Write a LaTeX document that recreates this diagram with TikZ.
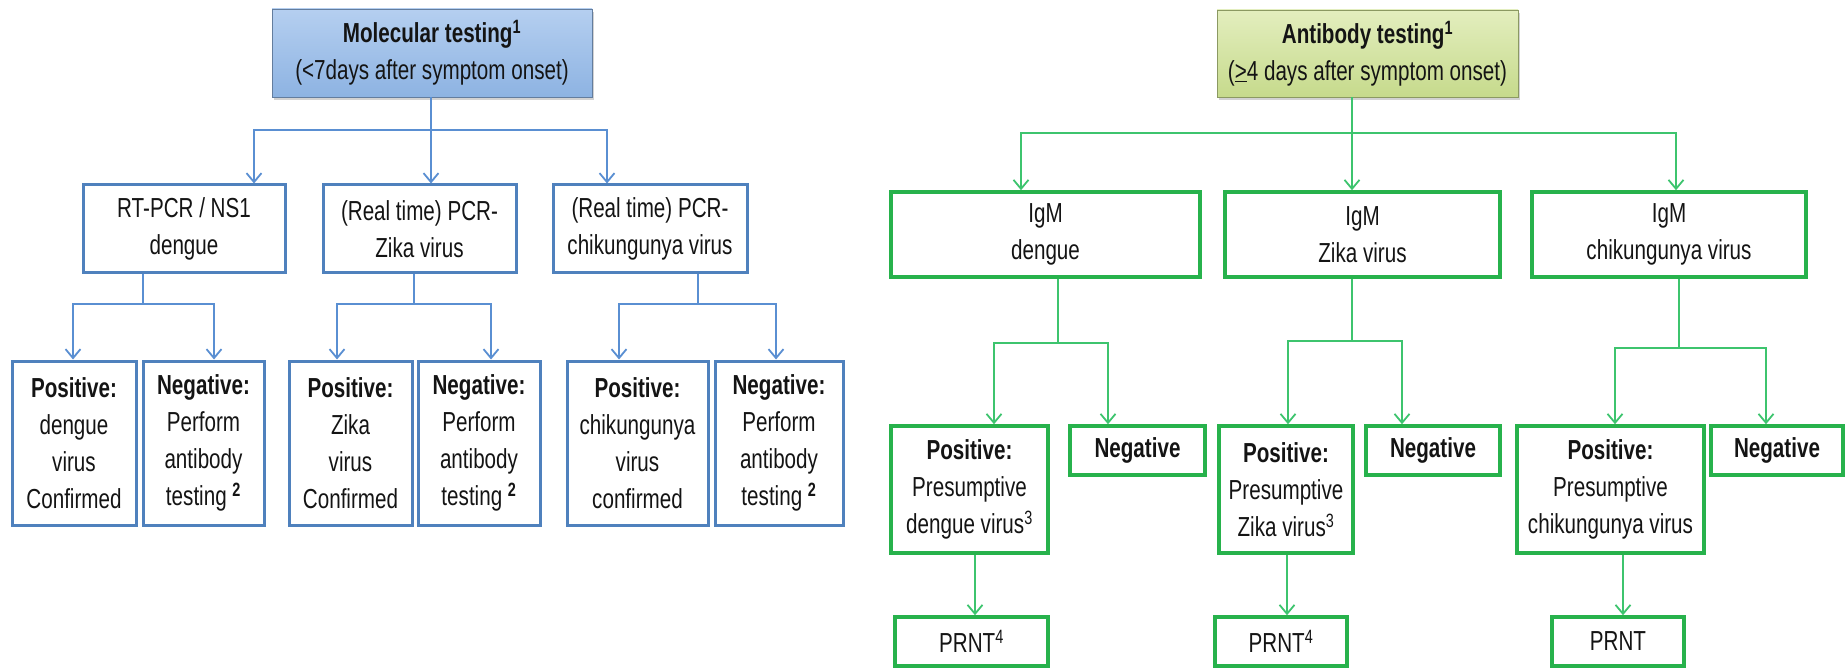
\documentclass[tikz,border=0pt]{standalone}
\usepackage{fontspec}
\setmainfont{Liberation Sans}[FakeStretch=0.75]
\usetikzlibrary{arrows.meta,shadows}
\definecolor{bluB}{HTML}{4F81BD}
\definecolor{bluC}{HTML}{5A8FD2}
\definecolor{bluT}{HTML}{B5CFF0}
\definecolor{bluBt}{HTML}{8DB3E2}
\definecolor{grnB}{HTML}{27B24C}
\definecolor{grnC}{HTML}{3DC46E}
\definecolor{grnT}{HTML}{E3EEBE}
\definecolor{grnBt}{HTML}{C6DA8C}
\definecolor{txt}{HTML}{141414}
\begin{document}
\begin{tikzpicture}[x=1pt,y=-1pt,
  every node/.style={font=\fontsize{27.5}{37}\selectfont, text=txt, align=center, inner sep=0pt},
  bbox/.style={draw=bluB, line width=3pt, fill=white},
  gbox/.style={draw=grnB, line width=3.5pt, fill=white},
  btop/.style={draw=bluBt!70!black, line width=0.6pt, top color=bluT, bottom color=bluBt,
    drop shadow={shadow xshift=2pt,shadow yshift=-3pt,opacity=0.35}},
  gtop/.style={draw=grnBt!70!black, line width=0.6pt, top color=grnT, bottom color=grnBt,
    drop shadow={shadow xshift=2pt,shadow yshift=-3pt,opacity=0.35}},
  bcon/.style={draw=bluC, line width=1.8pt},
  bcona/.style={bcon, -{Straight Barb[length=9pt,width=15pt]}},
  gcon/.style={draw=grnC, line width=1.8pt},
  gcona/.style={gcon, -{Straight Barb[length=9pt,width=15pt]}}
]
\fill[white] (0,0) rectangle (1845,668);
\useasboundingbox (0,0) rectangle (1845,668);

% ---------------- left (molecular) ----------------
\node[btop, minimum width=320pt, minimum height=88pt] (mol) at (432,53)
  {\textbf{Molecular testing\textsuperscript{1}}\\(<7days after symptom onset)};

\node[bbox, minimum width=202pt, minimum height=88pt] (rt) at (184,229) {RT-PCR / NS1\\dengue};
\node[bbox, minimum width=193pt, minimum height=88pt] (zk) at (419.5,229) {(Real time) PCR-\\Zika virus};
\node[bbox, minimum width=194pt, minimum height=88pt] (ck) at (650,229) {(Real time) PCR-\\chikungunya virus};

\node[bbox, minimum width=124pt, minimum height=164pt] (p1) at (74,443) {\textbf{Positive:}\\dengue\\virus\\Confirmed};
\node[bbox, minimum width=121pt, minimum height=164pt] (n1) at (203.5,443) {\textbf{Negative:}\\Perform\\antibody\\testing \textsuperscript{\textbf{2}}};
\node[bbox, minimum width=123pt, minimum height=164pt] (p2) at (350.5,443) {\textbf{Positive:}\\Zika\\virus\\Confirmed};
\node[bbox, minimum width=122pt, minimum height=164pt] (n2) at (479,443) {\textbf{Negative:}\\Perform\\antibody\\testing \textsuperscript{\textbf{2}}};
\node[bbox, minimum width=141pt, minimum height=164pt] (p3) at (637.5,443) {\textbf{Positive:}\\chikungunya\\virus\\confirmed};
\node[bbox, minimum width=128pt, minimum height=164pt] (n3) at (779,443) {\textbf{Negative:}\\Perform\\antibody\\testing \textsuperscript{\textbf{2}}};

\coordinate (mj) at (431,130);
\draw[bcon] (mj |- mol.south) -- (mj);
\draw[bcona] (mj) -| ([xshift=70pt]rt.north);
\draw[bcona] (mj) -- (mj |- zk.north);
\draw[bcona] (mj) -| ([xshift=-43pt]ck.north);

\coordinate (rj) at (143,304);
\draw[bcon] (rj |- rt.south) -- (rj);
\draw[bcona] (rj) -| ([xshift=-1pt]p1.north);
\draw[bcona] (rj) -| ([xshift=10.5pt]n1.north);

\coordinate (zj) at (414,304);
\draw[bcon] (zj |- zk.south) -- (zj);
\draw[bcona] (zj) -| ([xshift=-13.5pt]p2.north);
\draw[bcona] (zj) -| ([xshift=12pt]n2.north);

\coordinate (cj) at (698,304);
\draw[bcon] (cj |- ck.south) -- (cj);
\draw[bcona] (cj) -| ([xshift=-18.5pt]p3.north);
\draw[bcona] (cj) -| ([xshift=-3pt]n3.north);

% ---------------- right (antibody) ----------------
\node[gtop, minimum width=301pt, minimum height=87pt] (ab) at (1367.5,53.5)
  {\textbf{Antibody testing\textsuperscript{1}}\\(\underline{>}4 days after symptom onset)};

\node[gbox, minimum width=309pt, minimum height=85pt] (ig1) at (1045.5,234.5) {IgM\\dengue};
\node[gbox, minimum width=275pt, minimum height=85pt] (ig2) at (1362.5,234.5) {IgM\\Zika virus};
\node[gbox, minimum width=274pt, minimum height=85pt] (ig3) at (1669,234.5) {IgM\\chikungunya virus};

\node[gbox, minimum width=157pt, minimum height=127pt] (pd) at (969.5,489.5) {\textbf{Positive:}\\Presumptive\\dengue virus\textsuperscript{3}};
\node[gbox, minimum width=135pt, minimum height=49pt] (nd) at (1137.5,450.5) {\textbf{Negative}};
\node[gbox, minimum width=134pt, minimum height=127pt] (pz) at (1286,489.5) {\textbf{Positive:}\\Presumptive\\Zika virus\textsuperscript{3}};
\node[gbox, minimum width=134pt, minimum height=49pt] (nz) at (1433,450.5) {\textbf{Negative}};
\node[gbox, minimum width=187pt, minimum height=127pt] (pc) at (1610.5,489.5) {\textbf{Positive:}\\Presumptive\\chikungunya virus};
\node[gbox, minimum width=132pt, minimum height=49pt] (nc) at (1777,450.5) {\textbf{Negative}};

\node[gbox, minimum width=153pt, minimum height=49pt] (rd) at (971.5,641.5) {PRNT\textsuperscript{4}};
\node[gbox, minimum width=132pt, minimum height=49pt] (rz) at (1281,641.5) {PRNT\textsuperscript{4}};
\node[gbox, minimum width=132pt, minimum height=49pt] (rc) at (1618,641.5) {PRNT};

\coordinate (aj) at (1352,133);
\draw[gcon] (aj |- ab.south) -- (aj);
\draw[gcona] (aj) -| ([xshift=-24.5pt]ig1.north);
\draw[gcona] (aj) -- (aj |- ig2.north);
\draw[gcona] (aj) -| ([xshift=7pt]ig3.north);

\coordinate (dj) at (1058,343);
\draw[gcon] (dj |- ig1.south) -- (dj);
\draw[gcona] (dj) -| ([xshift=24.5pt]pd.north);
\draw[gcona] (dj) -| ([xshift=-29.5pt]nd.north);

\coordinate (zzj) at (1352,341);
\draw[gcon] (zzj |- ig2.south) -- (zzj);
\draw[gcona] (zzj) -| ([xshift=2pt]pz.north);
\draw[gcona] (zzj) -| ([xshift=-31pt]nz.north);

\coordinate (ccj) at (1679,348);
\draw[gcon] (ccj |- ig3.south) -- (ccj);
\draw[gcona] (ccj) -| ([xshift=4.5pt]pc.north);
\draw[gcona] (ccj) -| ([xshift=-11pt]nc.north);

\coordinate (pdo) at (975,553);
\coordinate (pzo) at (1287,553);
\coordinate (pco) at (1623,553);
\draw[gcona] (pdo |- pd.south) -- (pdo |- rd.north);
\draw[gcona] (pzo |- pz.south) -- (pzo |- rz.north);
\draw[gcona] (pco |- pc.south) -- (pco |- rc.north);
\end{tikzpicture}
\end{document}
